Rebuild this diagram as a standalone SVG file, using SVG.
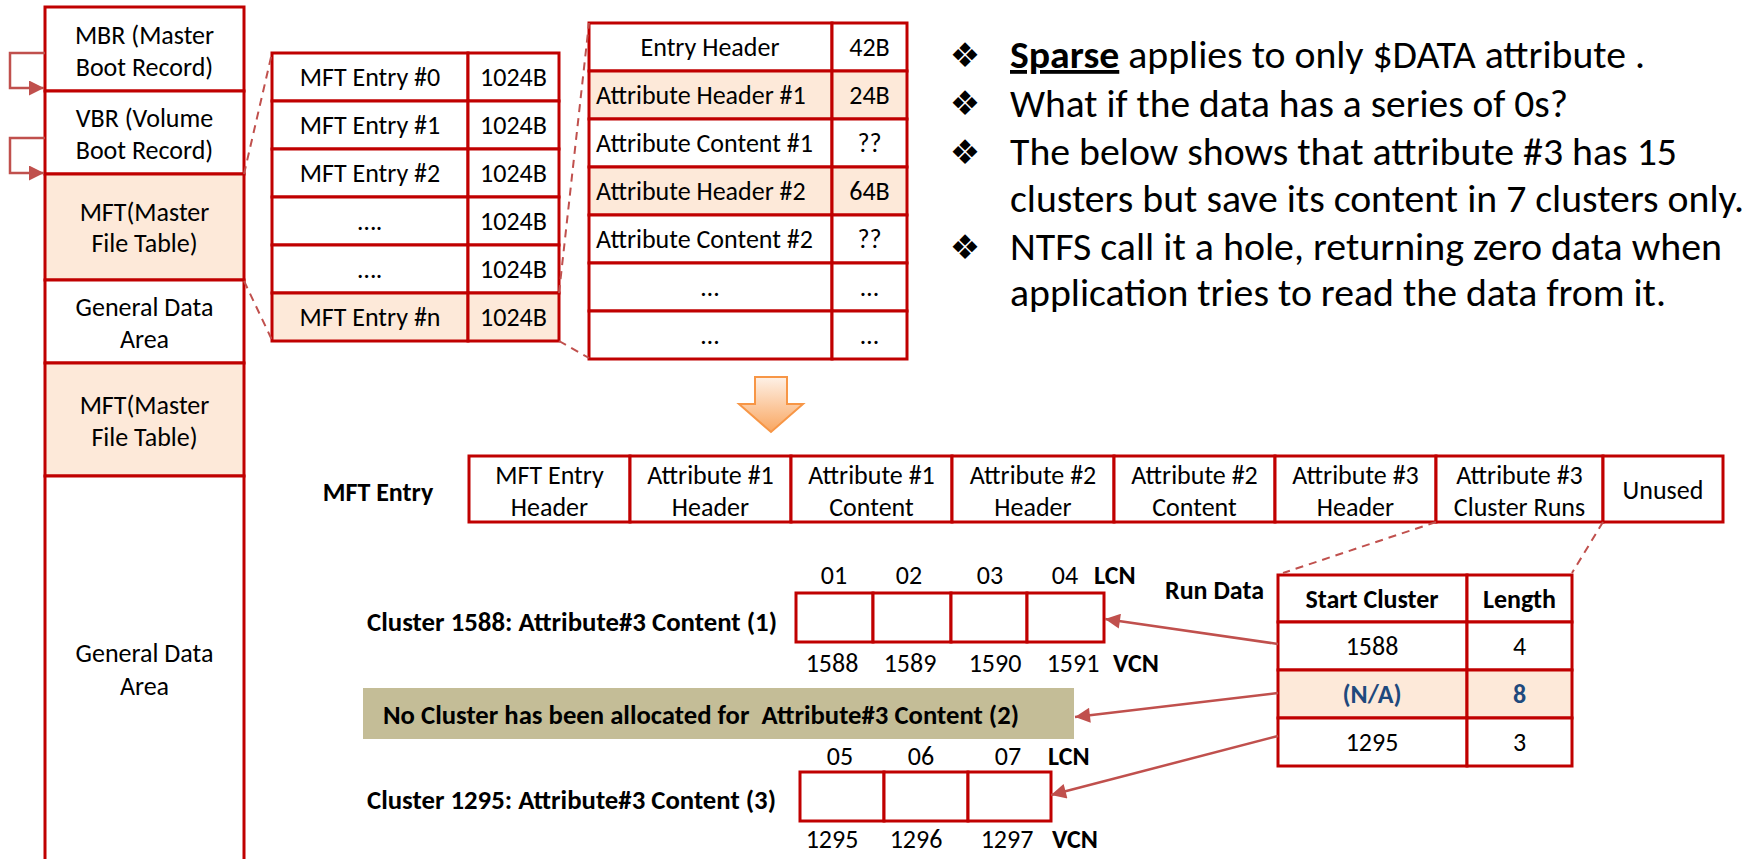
<svg xmlns="http://www.w3.org/2000/svg" width="1750" height="859" viewBox="0 0 1750 859">
<style>
.bx{fill:#fff;stroke:#c00000;stroke-width:3}
.pk{fill:#fde9d9}
.t{font-family:Carlito,Lato,'Liberation Sans',sans-serif;font-size:26px;fill:#000}
.b{font-weight:bold}
.c{text-anchor:middle}
.e{text-anchor:end}
.bl{font-family:Carlito,Lato,'Liberation Sans',sans-serif;font-size:38px;fill:#000}
.dia{font-family:'DejaVu Sans',sans-serif;font-size:34px;text-anchor:middle;fill:#000}
.dash{stroke:#c0504d;stroke-width:2;stroke-dasharray:8 6;fill:none}
.arr{stroke:#c0504d;stroke-width:2.5;fill:none;marker-end:url(#ah)}
.nv{fill:#1f497d}
</style>
<defs>
<marker id="ah" viewBox="0 0 10 10" refX="10" refY="5" markerWidth="16" markerHeight="15" markerUnits="userSpaceOnUse" orient="auto">
<path d="M0,0 L10,5 L0,10 Z" fill="#c0504d"/>
</marker>
<linearGradient id="og" x1="0" y1="0" x2="0" y2="1">
<stop offset="0" stop-color="#fef1e7"/>
<stop offset="1" stop-color="#f9a660"/>
</linearGradient>
</defs>

<g id="mbr"><rect class="bx" x="45" y="7" width="199" height="84"/>
<text class="t c" x="144.5" y="44">MBR (Master</text><text class="t c" x="144.5" y="76">Boot Record)</text></g>
<g id="vbr"><rect class="bx" x="45" y="91" width="199" height="83"/>
<text class="t c" x="144.5" y="127">VBR (Volume</text><text class="t c" x="144.5" y="159">Boot Record)</text></g>
<g id="mft1"><rect class="bx pk" x="45" y="174" width="199" height="106"/>
<text class="t c" x="144.5" y="221">MFT(Master</text><text class="t c" x="144.5" y="252">File Table)</text></g>
<g id="gda1"><rect class="bx" x="45" y="280" width="199" height="83"/>
<text class="t c" x="144.5" y="316">General Data</text><text class="t c" x="144.5" y="348">Area</text></g>
<g id="mft2"><rect class="bx pk" x="45" y="363" width="199" height="113"/>
<text class="t c" x="144.5" y="414">MFT(Master</text><text class="t c" x="144.5" y="446">File Table)</text></g>
<g id="gda2"><rect class="bx" x="45" y="476" width="199" height="400"/>
<text class="t c" x="144.5" y="662">General Data</text><text class="t c" x="144.5" y="695">Area</text></g>

<g id="mft-table">
<rect class="bx" x="272" y="53" width="196" height="48"/><rect class="bx" x="468" y="53" width="91" height="48"/>
<rect class="bx" x="272" y="101" width="196" height="48"/><rect class="bx" x="468" y="101" width="91" height="48"/>
<rect class="bx" x="272" y="149" width="196" height="48"/><rect class="bx" x="468" y="149" width="91" height="48"/>
<rect class="bx" x="272" y="197" width="196" height="48"/><rect class="bx" x="468" y="197" width="91" height="48"/>
<rect class="bx" x="272" y="245" width="196" height="48"/><rect class="bx" x="468" y="245" width="91" height="48"/>
<rect class="bx pk" x="272" y="293" width="196" height="48"/><rect class="bx pk" x="468" y="293" width="91" height="48"/>
<text class="t c" x="370" y="86">MFT Entry #0</text><text class="t c" x="513.5" y="86">1024B</text>
<text class="t c" x="370" y="134">MFT Entry #1</text><text class="t c" x="513.5" y="134">1024B</text>
<text class="t c" x="370" y="182">MFT Entry #2</text><text class="t c" x="513.5" y="182">1024B</text>
<text class="t c" x="370" y="230">….</text><text class="t c" x="513.5" y="230">1024B</text>
<text class="t c" x="370" y="278">….</text><text class="t c" x="513.5" y="278">1024B</text>
<text class="t c" x="370" y="326">MFT Entry #n</text><text class="t c" x="513.5" y="326">1024B</text>
</g>

<g id="attr-table">
<rect class="bx" x="589" y="23" width="243" height="48"/><rect class="bx" x="832" y="23" width="75" height="48"/>
<rect class="bx pk" x="589" y="71" width="243" height="48"/><rect class="bx pk" x="832" y="71" width="75" height="48"/>
<rect class="bx" x="589" y="119" width="243" height="48"/><rect class="bx" x="832" y="119" width="75" height="48"/>
<rect class="bx pk" x="589" y="167" width="243" height="48"/><rect class="bx pk" x="832" y="167" width="75" height="48"/>
<rect class="bx" x="589" y="215" width="243" height="48"/><rect class="bx" x="832" y="215" width="75" height="48"/>
<rect class="bx" x="589" y="263" width="243" height="48"/><rect class="bx" x="832" y="263" width="75" height="48"/>
<rect class="bx" x="589" y="311" width="243" height="48"/><rect class="bx" x="832" y="311" width="75" height="48"/>
<text class="t c" x="710" y="56">Entry Header</text><text class="t c" x="869.5" y="56">42B</text>
<text class="t" x="596" y="104">Attribute Header #1</text><text class="t c" x="869.5" y="104">24B</text>
<text class="t" x="596" y="152">Attribute Content #1</text><text class="t c" x="869.5" y="152">??</text>
<text class="t" x="596" y="200">Attribute Header #2</text><text class="t c" x="869.5" y="200">64B</text>
<text class="t" x="596" y="248">Attribute Content #2</text><text class="t c" x="869.5" y="248">??</text>
<text class="t c" x="710" y="296">…</text><text class="t c" x="869.5" y="296">…</text>
<text class="t c" x="710" y="344">…</text><text class="t c" x="869.5" y="344">…</text>
</g>

<g id="notes">
<text class="dia" x="965" y="67">❖</text>
<text class="dia" x="965" y="115">❖</text>
<text class="dia" x="965" y="164">❖</text>
<text class="dia" x="965" y="259">❖</text>
<text class="bl" x="1010" y="68" textLength="635" lengthAdjust="spacingAndGlyphs"><tspan font-weight="bold" text-decoration="underline">Sparse</tspan> applies to only $DATA attribute .</text>
<text class="bl" x="1010" y="117" textLength="558" lengthAdjust="spacingAndGlyphs">What if the data has a series of 0s?</text>
<text class="bl" x="1010" y="165" textLength="667" lengthAdjust="spacingAndGlyphs">The below shows that attribute #3 has 15</text>
<text class="bl" x="1010" y="212" textLength="734" lengthAdjust="spacingAndGlyphs">clusters but save its content in 7 clusters only.</text>
<text class="bl" x="1010" y="260" textLength="712" lengthAdjust="spacingAndGlyphs">NTFS call it a hole, returning zero data when</text>
<text class="bl" x="1010" y="306" textLength="656" lengthAdjust="spacingAndGlyphs">application tries to read the data from it.</text>
</g>

<g id="down-arrow">
<path d="M755,377 H787 V404 H803 L771,432 L739,404 H755 Z" fill="url(#og)" stroke="#f79646" stroke-width="2"/>
</g>

<g id="mft-entry-row">
<text class="t b c" x="378" y="501">MFT Entry</text>
<rect class="bx" x="469" y="456" width="161" height="66"/>
<rect class="bx" x="630" y="456" width="161" height="66"/>
<rect class="bx" x="791" y="456" width="161" height="66"/>
<rect class="bx" x="952" y="456" width="162" height="66"/>
<rect class="bx" x="1114" y="456" width="161" height="66"/>
<rect class="bx" x="1275" y="456" width="161" height="66"/>
<rect class="bx" x="1436" y="456" width="167" height="66"/>
<rect class="bx" x="1603" y="456" width="120" height="66"/>
<text class="t c" x="549.5" y="484">MFT Entry</text><text class="t c" x="549.5" y="516">Header</text>
<text class="t c" x="710.5" y="484">Attribute #1</text><text class="t c" x="710.5" y="516">Header</text>
<text class="t c" x="871.5" y="484">Attribute #1</text><text class="t c" x="871.5" y="516">Content</text>
<text class="t c" x="1033" y="484">Attribute #2</text><text class="t c" x="1033" y="516">Header</text>
<text class="t c" x="1194.5" y="484">Attribute #2</text><text class="t c" x="1194.5" y="516">Content</text>
<text class="t c" x="1355.5" y="484">Attribute #3</text><text class="t c" x="1355.5" y="516">Header</text>
<text class="t c" x="1519.5" y="484">Attribute #3</text><text class="t c" x="1519.5" y="516">Cluster Runs</text>
<text class="t c" x="1663" y="499">Unused</text>
</g>

<g id="cluster-1588">
<text class="t b" x="367" y="631" textLength="410" lengthAdjust="spacingAndGlyphs">Cluster 1588: Attribute#3 Content (1)</text>
<rect class="bx" x="796" y="593" width="77" height="49"/>
<rect class="bx" x="873" y="593" width="78" height="49"/>
<rect class="bx" x="951" y="593" width="76" height="49"/>
<rect class="bx" x="1027" y="593" width="77" height="49"/>
<text class="t c" x="834" y="584">01</text><text class="t c" x="909" y="584">02</text><text class="t c" x="990" y="584">03</text><text class="t c" x="1065" y="584">04</text>
<text class="t b" x="1094" y="584">LCN</text>
<text class="t c" x="832" y="672">1588</text><text class="t c" x="910" y="672">1589</text><text class="t c" x="995" y="672">1590</text><text class="t c" x="1073" y="672">1591</text>
<text class="t b" x="1113" y="672">VCN</text>
</g>

<g id="hole">
<rect x="363" y="688" width="711" height="51" fill="#c4bd97"/>
<text class="t b" x="383" y="724" xml:space="preserve" textLength="636" lengthAdjust="spacingAndGlyphs">No Cluster has been allocated for  Attribute#3 Content (2)</text>
</g>

<g id="cluster-1295">
<text class="t b" x="367" y="809" textLength="409" lengthAdjust="spacingAndGlyphs">Cluster 1295: Attribute#3 Content (3)</text>
<rect class="bx" x="800" y="772" width="84" height="49"/>
<rect class="bx" x="884" y="772" width="84" height="49"/>
<rect class="bx" x="968" y="772" width="83" height="49"/>
<text class="t c" x="840" y="765">05</text><text class="t c" x="921" y="765">06</text><text class="t c" x="1008" y="765">07</text>
<text class="t b" x="1048" y="765">LCN</text>
<text class="t c" x="832" y="848">1295</text><text class="t c" x="916" y="848">1296</text><text class="t c" x="1007" y="848">1297</text>
<text class="t b" x="1052" y="848">VCN</text>
</g>

<g id="run-data">
<text class="t b" x="1165" y="599">Run Data</text>
<rect class="bx" x="1278" y="575" width="189" height="47"/><rect class="bx" x="1467" y="575" width="105" height="47"/>
<rect class="bx" x="1278" y="622" width="189" height="48"/><rect class="bx" x="1467" y="622" width="105" height="48"/>
<rect class="bx pk" x="1278" y="670" width="189" height="48"/><rect class="bx pk" x="1467" y="670" width="105" height="48"/>
<rect class="bx" x="1278" y="718" width="189" height="48"/><rect class="bx" x="1467" y="718" width="105" height="48"/>
<text class="t b c" x="1372" y="608">Start Cluster</text><text class="t b c" x="1519.5" y="608">Length</text>
<text class="t c" x="1372" y="655">1588</text><text class="t c" x="1519.5" y="655">4</text>
<text class="t b c nv" x="1372" y="703">(N/A)</text><text class="t b c nv" x="1519.5" y="703">8</text>
<text class="t c" x="1372" y="751">1295</text><text class="t c" x="1519.5" y="751">3</text>
</g>

<g id="connectors">
<path class="arr" d="M45,53 H10 V88 H44"/>
<path class="arr" d="M45,138 H10 V173 H44"/>
<line class="dash" x1="244" y1="174" x2="272" y2="53"/>
<line class="dash" x1="244" y1="281" x2="272" y2="340"/>
<line class="dash" x1="559" y1="293" x2="589" y2="23"/>
<line class="dash" x1="559" y1="341" x2="589" y2="358"/>
<line class="dash" x1="1436" y1="522" x2="1283" y2="573"/>
<line class="dash" x1="1603" y1="522" x2="1572" y2="573"/>
<line class="arr" x1="1278" y1="644" x2="1105" y2="619"/>
<line class="arr" x1="1278" y1="693" x2="1075" y2="717"/>
<line class="arr" x1="1278" y1="736" x2="1051" y2="795"/>
</g>
</svg>
